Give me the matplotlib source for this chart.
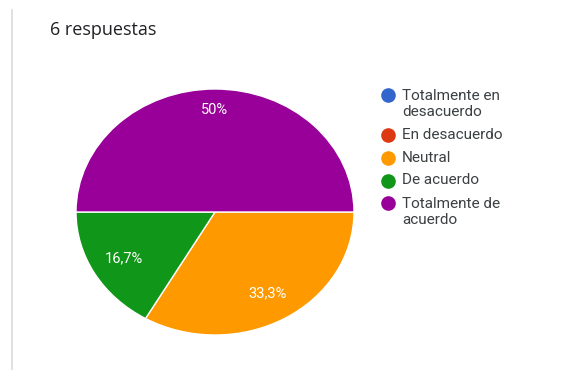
import matplotlib.pyplot as plt
from matplotlib.lines import Line2D

plt.rcParams['font.family'] = ['Roboto', 'DejaVu Sans']

categories = ['Totalmente en\ndesacuerdo', 'En desacuerdo', 'Neutral',
              'De acuerdo', 'Totalmente de\nacuerdo']
counts = [0, 0, 2, 1, 3]
colors = ['#3366cc', '#dc3912', '#ff9900', '#109618', '#990099']
title = '6 respuestas'

W, H = 566, 370


def pct_label(p):
    if p <= 0:
        return ''
    s = '%.1f' % p
    if s.endswith('.0'):
        s = s[:-2]
    return s.replace('.', ',') + '%'


def fx(px):
    return px / W


def fy(py):
    return 1 - py / H


fig = plt.figure(figsize=(W / 100, H / 100), dpi=100)

# thin grey card border on the left
fig.add_artist(Line2D([fx(11.5), fx(11.5)], [0, fy(10)],
                      color='#dadada', lw=1.2))

fig.text(fx(50), fy(30), title, fontsize=13, color='#202124',
         va='center', ha='left', family=['Open Sans', 'DejaVu Sans'])

# stretched (non-equal aspect) pie like the google forms summary
ax = fig.add_axes([fx(76), 35 / H, 278 / W, 246 / H])
wedges, texts, autotexts = ax.pie(
    counts, colors=colors, startangle=0, counterclock=False,
    autopct=pct_label, pctdistance=0.76,
    wedgeprops=dict(edgecolor='white', linewidth=1),
    textprops=dict(color='white', fontsize=10.5))
ax.set_xlim(-1, 1)
ax.set_ylim(-1, 1)
ax.set_aspect('auto')

# the biggest slice's label sits a bit further out
x, y = autotexts[-1].get_position()
autotexts[-1].set_position((x * 0.83 / 0.76, y * 0.83 / 0.76))

# legend: marker beside first line of each (possibly wrapped) label
line_px = 18
gap_px = 22.5
ypos = 95
for lab, c in zip(categories, colors):
    n = lab.count('\n') + 1
    fig.add_artist(Line2D([fx(388)], [fy(ypos)], marker='o', linestyle='',
                          markersize=9.5, markerfacecolor=c,
                          markeredgecolor=c))
    fig.text(fx(402), fy(ypos + (n - 1) * line_px / 2), lab, fontsize=11,
             color='#3c4043', va='center', ha='left',
             linespacing=line_px / (11 * 100 / 72))
    ypos += (n - 1) * line_px + gap_px

fig.savefig('out.png', dpi=100)
